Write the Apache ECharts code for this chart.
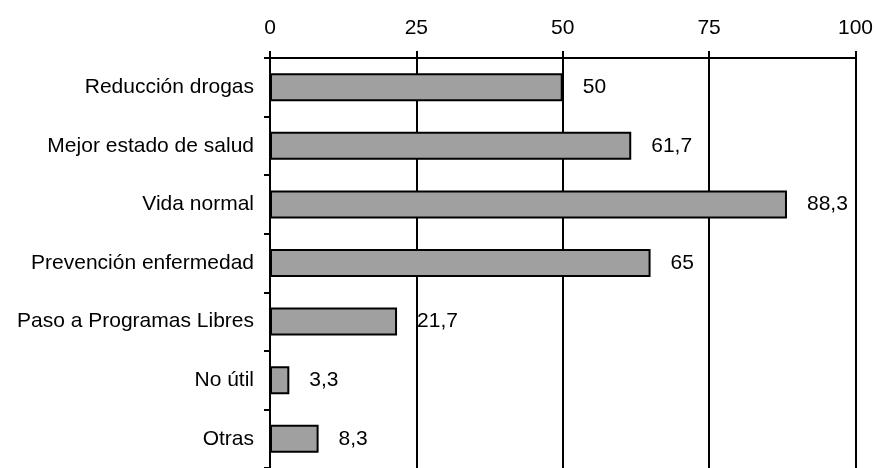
<!DOCTYPE html>
<html><head><meta charset="utf-8">
<script src="https://cdn.jsdelivr.net/npm/echarts@6/dist/echarts.min.js"></script>
<style>html,body{margin:0;padding:0;background:#fff}#c{width:876px;height:468px}</style>
</head><body><div id="c"></div>
<script>
var categories = ["Reducción drogas","Mejor estado de salud","Vida normal","Prevención enfermedad","Paso a Programas Libres","No útil","Otras"];
var values = [50, 61.7, 88.3, 65, 21.7, 3.3, 8.3];
var xTicks = [0, 25, 50, 75, 100];

var chart = echarts.init(document.getElementById('c'), null, {renderer:'canvas'});
var font = "'Liberation Sans', Arial, sans-serif";
chart.setOption({
  animation:false,
  backgroundColor:'#fff',
  grid:{left:270, width:587, top:58, height:413, containLabel:false},
  xAxis:{
    type:'value', position:'top', min:xTicks[0], max:xTicks[xTicks.length-1], interval:25,
    axisLine:{show:true, lineStyle:{color:'#000', width:2}},
    axisTick:{show:true, inside:false, length:7, lineStyle:{color:'#000', width:2}},
    axisLabel:{color:'#000', fontSize:21, fontFamily:font, margin:19},
    splitLine:{show:true, lineStyle:{color:'#000', width:2}}
  },
  yAxis:{
    type:'category', data:categories, inverse:true,
    axisLine:{show:true, onZero:false, lineStyle:{color:'#000', width:2}},
    axisTick:{show:true, inside:false, length:6, lineStyle:{color:'#000', width:2}},
    axisLabel:{color:'#000', fontSize:21, fontFamily:font, margin:16},
    splitLine:{show:false}
  },
  series:[{
    type:'bar', data:values, barWidth:28,
    itemStyle:{color:'#a0a0a0', borderColor:'#000', borderWidth:2},
    label:{show:true, position:'right', distance:20, color:'#000', fontSize:21, fontFamily:font,
      formatter:function(p){return String(p.value).replace('.',',');}}
  }]
});
</script></body></html>
